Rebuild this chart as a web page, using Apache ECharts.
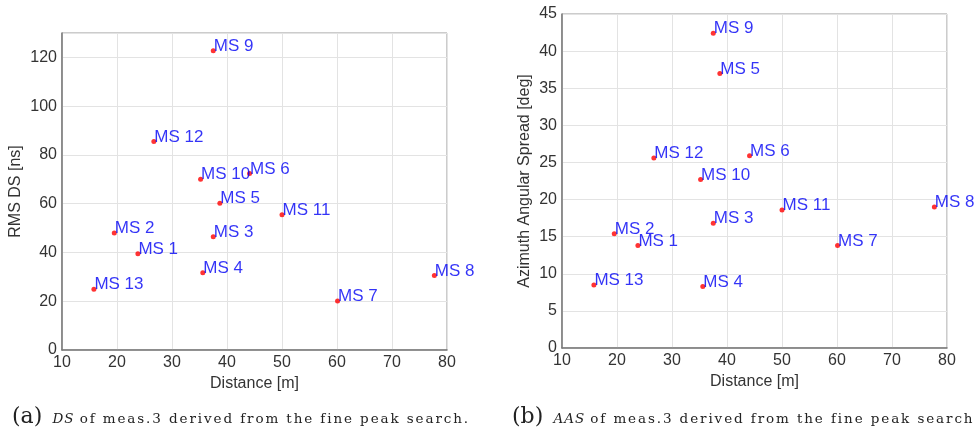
<!DOCTYPE html>
<html>
<head>
<meta charset="utf-8">
<script src="https://cdn.jsdelivr.net/npm/echarts@6/dist/echarts.min.js"></script>
<style>
html,body{margin:0;padding:0;background:#fff;}
#wrap{position:relative;width:976px;height:437px;}
#c{width:976px;height:437px;}
.cap{position:absolute;top:403px;font-family:'DejaVu Serif',serif;color:#222;white-space:nowrap;}
.cap .p{font-size:22px;letter-spacing:0px;}
.cap .t{font-size:13.5px;letter-spacing:1.9px;}
.cap i{font-size:13.5px;letter-spacing:1px;}
</style>
</head>
<body>
<div id="wrap">
<div id="c"></div>
<div class="cap" style="left:12px;"><span class="p">(a)</span>&nbsp;&nbsp;<i>DS</i>&nbsp;<span class="t">of meas.3 derived from the fine peak search.</span></div>
<div class="cap" style="left:512px;"><span class="p">(b)</span>&nbsp;&nbsp;<i>AAS</i>&nbsp;<span class="t">of meas.3 derived from the fine peak search</span></div>
</div>
<script>
const names = ['MS 1','MS 2','MS 3','MS 4','MS 5','MS 6','MS 7','MS 8','MS 9','MS 10','MS 11','MS 12','MS 13'];
const distance = [23.8, 19.5, 37.5, 35.6, 38.7, 44.1, 60.1, 77.7, 37.5, 35.2, 50.0, 26.7, 15.8];
const rmsDS = [39.5, 48.0, 46.4, 31.7, 60.2, 72.4, 20.1, 30.6, 122.7, 70.0, 55.5, 85.5, 24.9];
const aas = [13.8, 15.4, 16.8, 8.3, 37.0, 25.9, 13.8, 19.0, 42.4, 22.7, 18.6, 25.6, 8.5];
const xTicks = [10, 20, 30, 40, 50, 60, 70, 80];
const dsTicks = [0, 20, 40, 60, 80, 100, 120];
const aasTicks = [0, 5, 10, 15, 20, 25, 30, 35, 40, 45];

const FONT = 'Liberation Sans';
const chart = echarts.init(document.getElementById('c'));

function xAxis(gi){
  return {
    type:'value', gridIndex:gi, min:xTicks[0], max:xTicks[xTicks.length-1], interval:xTicks[1]-xTicks[0],
    name:'Distance [m]', nameLocation:'middle', nameGap:22,
    nameTextStyle:{fontFamily:FONT,fontSize:16,color:'#333'},
    axisLine:{show:true,lineStyle:{color:'#777',width:1.5}},
    axisTick:{show:false},
    axisLabel:{fontFamily:FONT,fontSize:16,color:'#333',margin:5},
    splitLine:{show:true,lineStyle:{color:'#e3e3e3',width:1}}
  };
}
function yAxis(gi,name,ticks,max,gap){
  return {
    type:'value', gridIndex:gi, min:ticks[0], max:max, interval:ticks[1]-ticks[0],
    name:name, nameLocation:'middle', nameGap:gap,
    nameTextStyle:{fontFamily:FONT,fontSize:16,color:'#333'},
    axisLine:{show:true,lineStyle:{color:'#777',width:1.5}},
    axisTick:{show:false},
    axisLabel:{fontFamily:FONT,fontSize:16,color:'#333',margin:5,
      formatter:function(v){return ticks.indexOf(v)>=0?String(v):'';}},
    splitLine:{show:true,lineStyle:{color:'#e3e3e3',width:1}}
  };
}
function series(gi,vals){
  return {
    type:'scatter', xAxisIndex:gi, yAxisIndex:gi,
    data: distance.map((d,i)=>({value:[d,vals[i]],name:names[i]})),
    symbolSize:5, itemStyle:{color:'#ff0000'},
    label:{show:true, formatter:'{b}', position:[3,6.5], align:'left', verticalAlign:'bottom',
      fontFamily:FONT, fontSize:17, color:'#0000f5'},
    emphasis:{disabled:true}, silent:true, clip:false
  };
}
chart.setOption({
  animation:false,
  grid:[
    {left:62, top:33, width:385, height:317, show:true, borderColor:'#999', borderWidth:1},
    {left:562, top:14, width:385, height:334, show:true, borderColor:'#999', borderWidth:1}
  ],
  xAxis:[xAxis(0), xAxis(1)],
  yAxis:[yAxis(0,'RMS DS [ns]',dsTicks,130,38), yAxis(1,'Azimuth Angular Spread [deg]',aasTicks,45,29)],
  series:[series(0,rmsDS), series(1,aas)]
});
</script>
</body>
</html>
